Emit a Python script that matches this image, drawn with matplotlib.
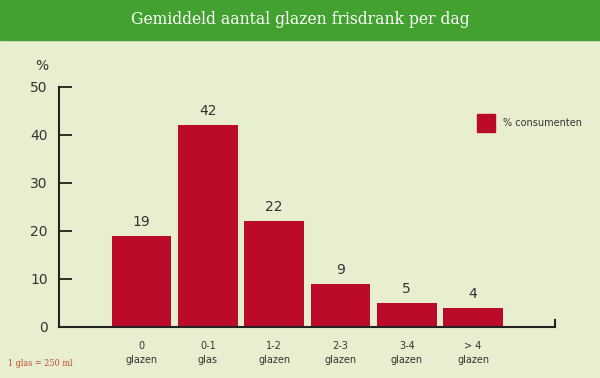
import matplotlib.pyplot as plt
import matplotlib.patches as mpatches

# data
categories = ["0\nglazen", "0-1\nglas", "1-2\nglazen", "2-3\nglazen", "3-4\nglazen", "> 4\nglazen"]
values = [19, 42, 22, 9, 5, 4]
y_ticks = [0, 10, 20, 30, 40, 50]

BG = "#e8efd0"
GREEN = "#43a22f"
BAR = "#bb0a2a"
TXT = "#333333"

fig = plt.figure(figsize=(6, 3.78), dpi=100, facecolor=BG)

# green header band
fig.patches.append(mpatches.Rectangle((0, 1 - 40 / 378), 1, 40 / 378,
                                      transform=fig.transFigure, color=GREEN, zorder=0))
fig.text(0.5, 1 - 20 / 378, "Gemiddeld aantal glazen frisdrank per dag",
         ha="center", va="center", color="white", fontsize=12.5,
         family="DejaVu Serif", fontstretch="condensed")

ax = fig.add_axes([59 / 600, 1 - 327 / 378, (555 - 59) / 600, (327 - 87) / 378])
ax.set_facecolor(BG)

x = list(range(len(values)))
ax.bar(x, values, width=0.9, color=BAR, zorder=2)
for xi, v in zip(x, values):
    ax.text(xi, v + 1.5, str(v), ha="center", va="bottom", fontsize=10, color=TXT)

ax.set_xlim(-1.245, 6.235)
ax.set_ylim(0, 50)
ax.set_yticks(y_ticks)
ax.set_yticklabels([str(t) for t in y_ticks], fontsize=10, color=TXT)
ax.tick_params(axis="y", direction="in", length=9, width=1.3, pad=8, color="#222222")
ax.set_xticks(x)
ax.set_xticklabels(categories, fontsize=7, color=TXT, linespacing=1.5)
ax.tick_params(axis="x", length=0, pad=10)
# hide the 0 tick mark (axis line serves)
ax.yaxis.get_major_ticks()[0].tick1line.set_visible(False)

for s in ["top", "right"]:
    ax.spines[s].set_visible(False)
for s in ["left", "bottom"]:
    ax.spines[s].set_linewidth(1.5)
    ax.spines[s].set_color("#222222")

# small end mark on the x axis
ax.plot([1, 1], [0, 0.03], transform=ax.transAxes, color="#222222", lw=1.5, clip_on=False)

ax.text(-0.035, 1.07, "%", transform=ax.transAxes, fontsize=10, color=TXT, ha="center")

# legend
fig.patches.append(mpatches.Rectangle((477 / 600, 1 - 132 / 378), 18 / 600, 18 / 378,
                                      transform=fig.transFigure, color=BAR))
fig.text(503 / 600, 1 - 123 / 378, "% consumenten", fontsize=7, color=TXT, va="center")

fig.text(8 / 600, 1 - 364 / 378, "1 glas = 250 ml", fontsize=6.5, color="#c04a30",
         va="center", family="DejaVu Serif", fontstretch="condensed")

fig.savefig("out.png", dpi=100, facecolor=BG)
